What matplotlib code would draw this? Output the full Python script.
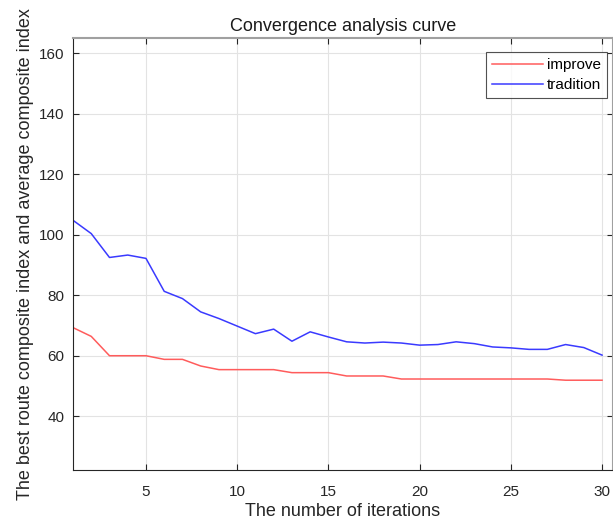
import numpy as np
import matplotlib
matplotlib.use('Agg')
from matplotlib import pyplot as plt

plt.rcParams['font.family'] = ['Liberation Sans', 'DejaVu Sans']

# 迭代次数与两种算法的综合指标
iterations = list(range(1, 31))
improve = [69.3, 66.4, 60.0, 60.0, 60.0, 58.8, 58.8, 56.6, 55.4, 55.4,
           55.4, 55.4, 54.4, 54.4, 54.4, 53.3, 53.3, 53.3, 52.3, 52.3,
           52.3, 52.3, 52.3, 52.3, 52.3, 52.3, 52.3, 51.9, 51.9, 51.9]
tradition = [104.8, 100.4, 92.5, 93.3, 92.2, 81.3, 78.9, 74.5, 72.3, 69.8,
             67.3, 68.8, 64.8, 67.9, 66.2, 64.6, 64.2, 64.5, 64.2, 63.5,
             63.7, 64.6, 64.0, 62.9, 62.6, 62.1, 62.1, 63.7, 62.7, 60.2]
yticks = [40, 60, 80, 100, 120, 140, 160]
xticks = [5, 10, 15, 20, 25, 30]

fig = plt.figure(figsize=(6.13, 5.27), dpi=100)
ax = fig.add_axes([73/613, 57/527, 540/613, 431.7/527])

ax.plot(iterations, improve, color='#ff5c5c', lw=1.1, label='improve')
ax.plot(iterations, tradition, color='#3a3aff', lw=1.1, label='tradition')

ax.set_xlim(1, 30.6)
ax.set_ylim(22.2, 165)
ax.set_xticks(xticks)
ax.set_yticks(yticks)
ax.grid(True, color='#e3e3e3', lw=0.8)
ax.set_axisbelow(True)
ax.tick_params(direction='in', top=True, right=True, length=4,
               labelsize=11, colors='#262626', pad=6)
ax.tick_params(axis='x', pad=11)
for s in ['left', 'bottom']:
    ax.spines[s].set_color('#262626')
for s in ['top', 'right']:
    ax.spines[s].set_color('#a0a0a0')
    ax.spines[s].set_linewidth(1.5)

ax.set_title('Convergence analysis curve', fontsize=13, color='#1a1a1a', pad=5)
ax.set_xlabel('The number of iterations', fontsize=13, color='#262626', labelpad=3)
ax.set_ylabel('The best route composite index and average composite index',
              fontsize=13, color='#262626', labelpad=4)

leg = ax.legend(loc='upper right', bbox_to_anchor=(0.989, 0.968),
                fontsize=11, frameon=True, fancybox=False,
                handlelength=3.3, handletextpad=0.25, borderpad=0.4,
                labelspacing=0.4, borderaxespad=0)
leg.get_frame().set_edgecolor('#262626')
leg.get_frame().set_linewidth(0.8)

plt.savefig('out.png', dpi=100)
